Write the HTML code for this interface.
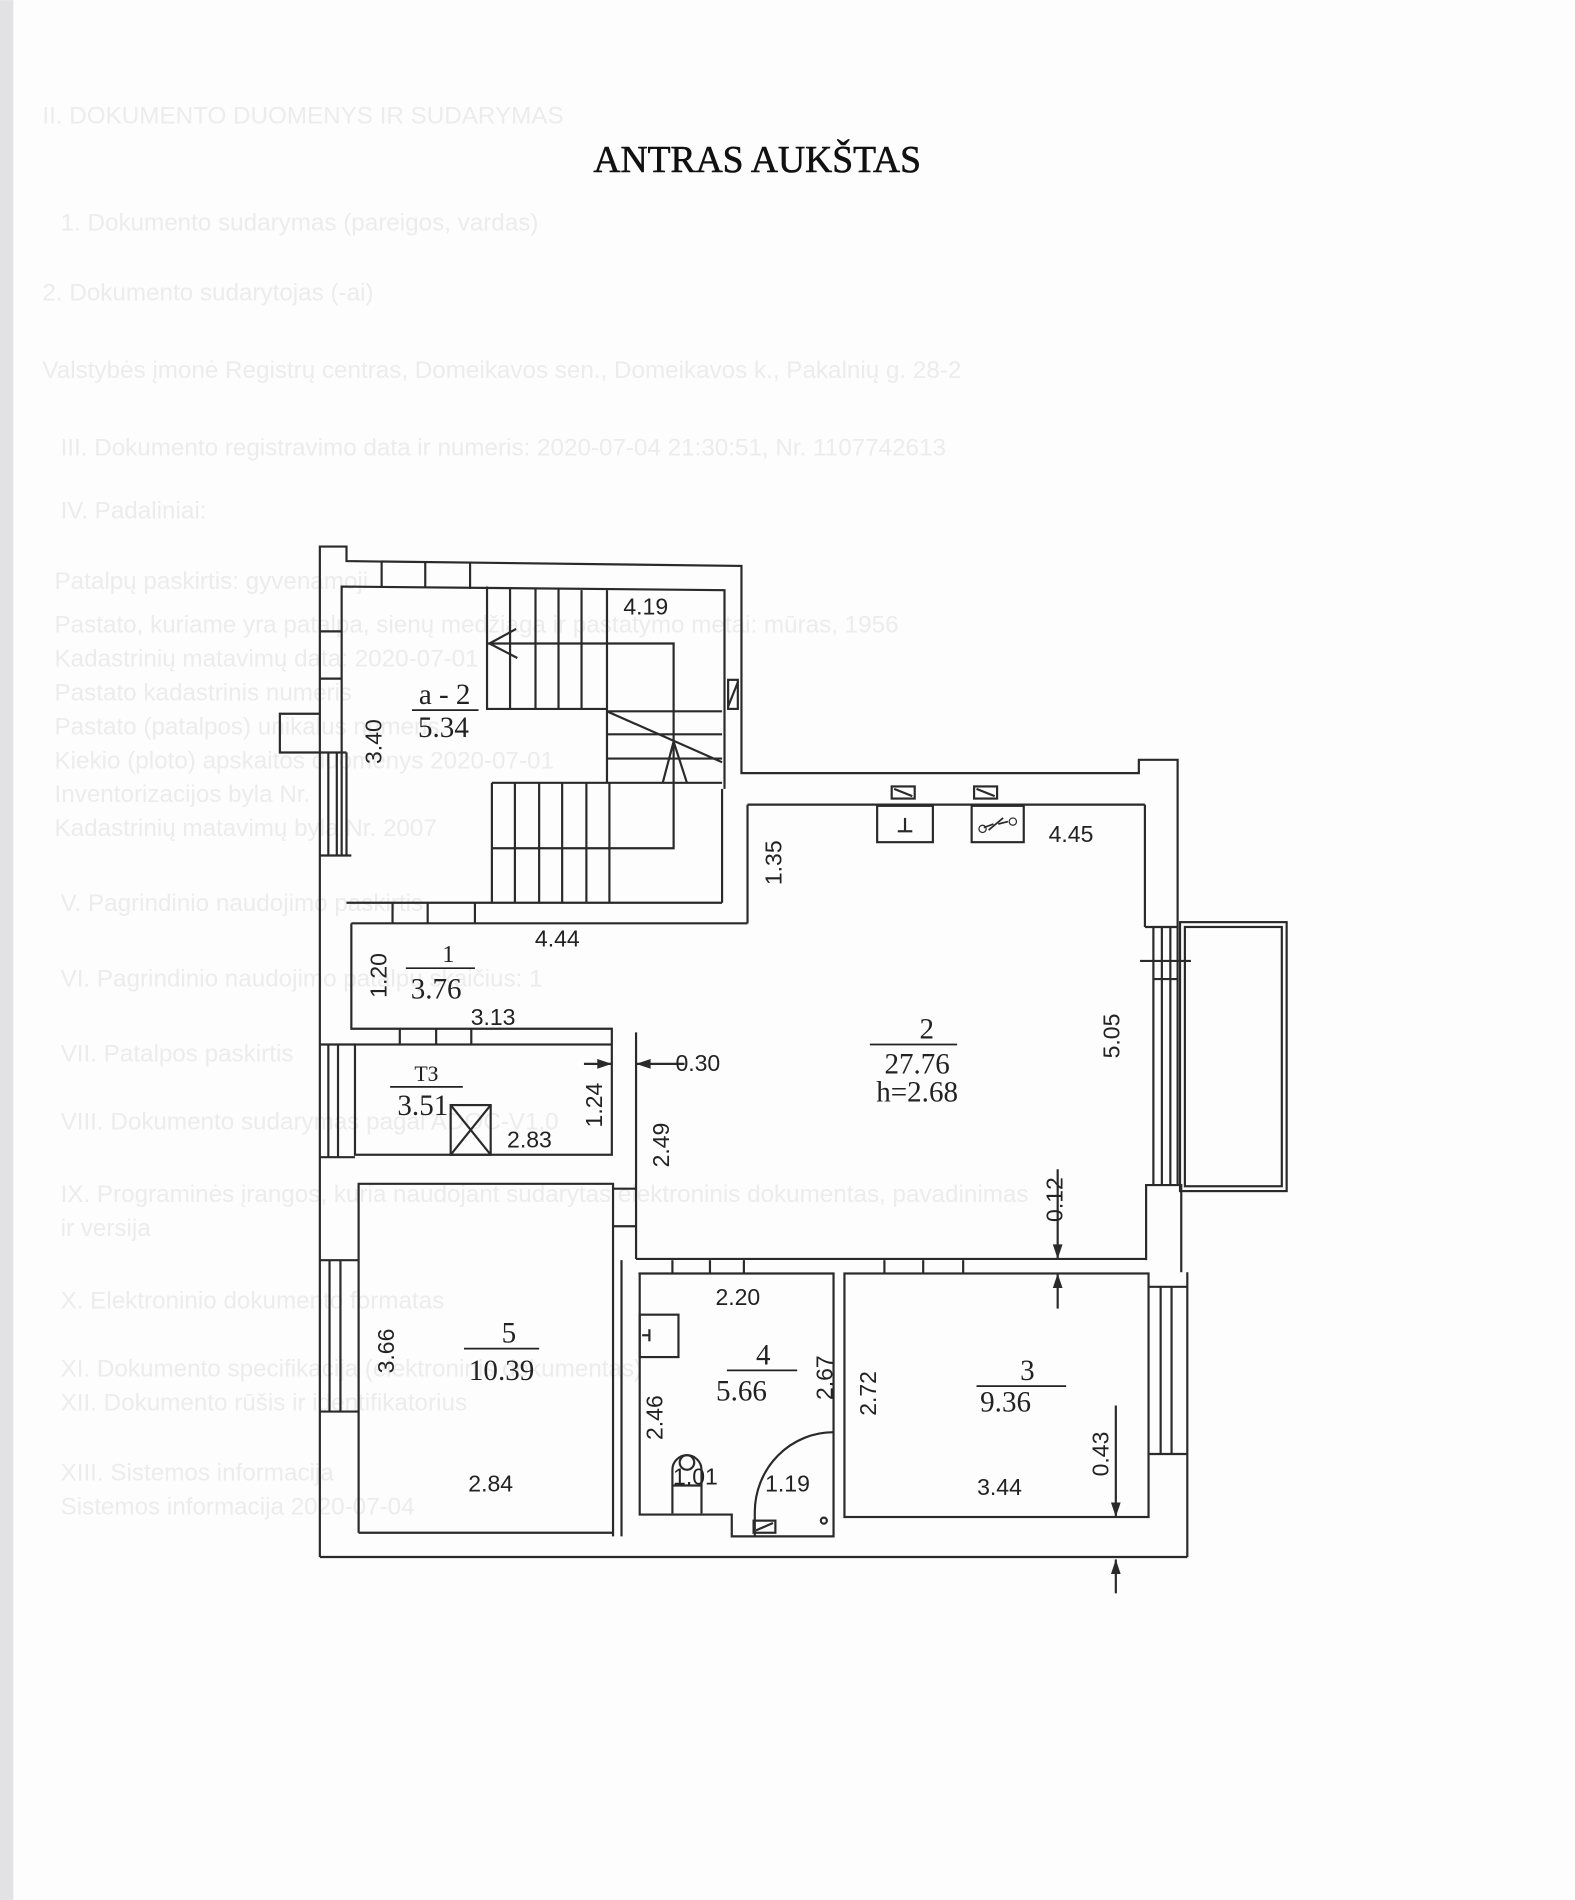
<!DOCTYPE html>
<html><head><meta charset="utf-8"><style>
html,body{margin:0;padding:0;background:#fdfdfd;}
svg{display:block;}
text{font-family:"Liberation Sans",sans-serif;fill:#222;}
.t{font-size:19px;}
.s text{font-family:"Liberation Serif",serif;font-size:24px;}
.bg text{font-family:"Liberation Sans",sans-serif;font-size:20px;fill:#ececec;}
</style></head><body>
<svg width="1575" height="1900" viewBox="0 0 1300 1568" xmlns="http://www.w3.org/2000/svg">
<rect x="0" y="0" width="1300" height="1568" fill="#fdfdfd"/>
<rect x="0" y="0" width="11" height="1568" fill="#e2e2e4"/>
<!-- faint background text -->
<g class="bg">
<text x="35" y="102">II. DOKUMENTO DUOMENYS IR SUDARYMAS</text>
<text x="50" y="190">1. Dokumento sudarymas (pareigos, vardas)</text>
<text x="35" y="248">2. Dokumento sudarytojas (-ai)</text>
<text x="35" y="312">Valstybės įmonė Registrų centras, Domeikavos sen., Domeikavos k., Pakalnių g. 28-2</text>
<text x="50" y="376">III. Dokumento registravimo data ir numeris: 2020-07-04 21:30:51, Nr. 1107742613</text>
<text x="50" y="428">IV. Padaliniai:</text>
<text x="45" y="486">Patalpų paskirtis: gyvenamoji</text>
<text x="45" y="522">Pastato, kuriame yra patalpa, sienų medžiaga ir pastatymo metai: mūras, 1956</text>
<text x="45" y="550">Kadastrinių matavimų data: 2020-07-01</text>
<text x="45" y="578">Pastato kadastrinis numeris</text>
<text x="45" y="606">Pastato (patalpos) unikalus numeris</text>
<text x="45" y="634">Kiekio (ploto) apskaitos duomenys 2020-07-01</text>
<text x="45" y="662">Inventorizacijos byla Nr.</text>
<text x="45" y="690">Kadastrinių matavimų byla Nr. 2007</text>
<text x="50" y="752">V. Pagrindinio naudojimo paskirtis</text>
<text x="50" y="814">VI. Pagrindinio naudojimo patalpų skaičius: 1</text>
<text x="50" y="876">VII. Patalpos paskirtis</text>
<text x="50" y="932">VIII. Dokumento sudarymas pagal ADOC-V1.0</text>
<text x="50" y="992">IX. Programinės įrangos, kuria naudojant sudarytas elektroninis dokumentas, pavadinimas</text>
<text x="50" y="1020">ir versija</text>
<text x="50" y="1080">X. Elektroninio dokumento formatas</text>
<text x="50" y="1136">XI. Dokumento specifikacija (elektroninis dokumentas)</text>
<text x="50" y="1164">XII. Dokumento rūšis ir identifikatorius</text>
<text x="50" y="1222">XIII. Sistemos informacija</text>
<text x="50" y="1250">Sistemos informacija 2020-07-04</text>
</g>

<text x="625" y="142" text-anchor="middle" style="font-family:'Liberation Serif',serif;font-size:31px;fill:#111;stroke:#111;stroke-width:0.5">ANTRAS AUKŠTAS</text>

<g fill="none" stroke="#2a2a2a" stroke-width="1.8">
<polyline points="264,621 264,451 286,451 286,463 612,467 612,638 940,638 940,627 972,627 972,765"/>
<polyline points="282,706 282,484 598,487 598,651"/>
<line x1="315" y1="463" x2="315" y2="484"/><line x1="351" y1="464" x2="351" y2="485"/><line x1="388" y1="465" x2="388" y2="486"/>
<line x1="264" y1="521" x2="282" y2="521"/><line x1="264" y1="560" x2="282" y2="560"/>
<polyline points="264,589 231,589 231,621 286,621"/>
<line x1="264" y1="621" x2="264" y2="1285"/>
<line x1="271" y1="621" x2="271" y2="706"/><line x1="278" y1="621" x2="278" y2="706"/>
<line x1="264" y1="706" x2="290" y2="706"/>
<line x1="286" y1="621" x2="286" y2="706"/>
<line x1="271" y1="862" x2="271" y2="955"/><line x1="279" y1="862" x2="279" y2="955"/><line x1="264" y1="862" x2="293" y2="862"/><line x1="264" y1="955" x2="293" y2="955"/>
<line x1="272" y1="1040" x2="272" y2="1165"/><line x1="281" y1="1040" x2="281" y2="1165"/><line x1="264" y1="1040" x2="296" y2="1040"/><line x1="264" y1="1165" x2="296" y2="1165"/>

<polyline points="402,484 402,585 501,585"/>
<line x1="421" y1="486" x2="421" y2="585"/><line x1="442" y1="486" x2="442" y2="585"/><line x1="461" y1="486" x2="461" y2="585"/><line x1="480" y1="487" x2="480" y2="585"/><line x1="501" y1="487" x2="501" y2="646"/>
<polyline points="402,531 556,531 556,700 406,700"/>
<line x1="501" y1="587" x2="596" y2="587"/><line x1="501" y1="606" x2="596" y2="606"/><line x1="501" y1="626" x2="596" y2="626"/>
<line x1="406" y1="646" x2="596" y2="646"/>
<line x1="501" y1="587" x2="596" y2="629"/>
<polyline points="547,646 556,612 567,646"/>
<polyline points="426,519 404,531 427,543"/>
<polyline points="406,646 406,745"/>
<line x1="425" y1="646" x2="425" y2="745"/><line x1="445" y1="646" x2="445" y2="745"/><line x1="464" y1="646" x2="464" y2="745"/><line x1="484" y1="646" x2="484" y2="745"/><line x1="503" y1="646" x2="503" y2="745"/>
<rect x="601" y="561" width="8" height="24"/><line x1="601" y1="583" x2="609" y2="563"/>
<line x1="286" y1="745" x2="596" y2="745"/>
<polyline points="290,762 290,849 505,849 505,862"/>
<line x1="290" y1="762" x2="617" y2="762"/>
<line x1="617" y1="762" x2="617" y2="664"/>
<line x1="596" y1="651" x2="596" y2="745"/>
<line x1="324" y1="745" x2="324" y2="762"/><line x1="353" y1="745" x2="353" y2="762"/><line x1="392" y1="745" x2="392" y2="762"/>
<line x1="617" y1="664" x2="945" y2="664"/>
<rect x="736" y="649" width="19" height="10"/><line x1="738" y1="651" x2="753" y2="657"/>
<rect x="804" y="649" width="19" height="10"/><line x1="806" y1="651" x2="821" y2="657"/>
<rect x="724" y="665" width="46" height="30"/>
<line x1="747" y1="675" x2="747" y2="686"/><line x1="741" y1="686" x2="753" y2="686"/>
<rect x="802" y="665" width="43" height="30"/>
<line x1="945" y1="664" x2="945" y2="765"/>
<line x1="945" y1="765" x2="972" y2="765"/>
<line x1="952" y1="765" x2="952" y2="978"/><line x1="959" y1="765" x2="959" y2="978"/><line x1="966" y1="765" x2="966" y2="978"/><line x1="972" y1="765" x2="972" y2="978"/>
<line x1="941" y1="793" x2="983" y2="793"/><line x1="952" y1="808" x2="972" y2="808"/>
<rect x="974" y="761" width="88" height="222"/><rect x="978" y="765" width="80" height="214"/>
<polyline points="946,1040 946,978 975,978 975,1050"/>
<rect x="293" y="862" width="212" height="91"/>
<line x1="330" y1="849" x2="330" y2="862"/><line x1="360" y1="849" x2="360" y2="862"/><line x1="389" y1="849" x2="389" y2="862"/>
<rect x="372" y="912" width="33" height="41"/><line x1="372" y1="912" x2="405" y2="953"/><line x1="405" y1="912" x2="372" y2="953"/>
<line x1="525" y1="852" x2="525" y2="1039"/>
<line x1="525" y1="1039" x2="946" y2="1039"/>
<polyline points="296,1265 296,977 506,977 506,1268"/>
<line x1="506" y1="981" x2="525" y2="981"/><line x1="506" y1="1012" x2="525" y2="1012"/>
<line x1="296" y1="1265" x2="506" y2="1265"/>
<line x1="513" y1="1040" x2="513" y2="1268"/>
<polyline points="527,1051 688,1051 688,1268 604,1268 604,1250 528,1250 528,1051"/>
<line x1="555" y1="1040" x2="555" y2="1051"/><line x1="586" y1="1040" x2="586" y2="1051"/><line x1="614" y1="1040" x2="614" y2="1051"/>
<rect x="528" y="1085" width="32" height="35"/><line x1="536" y1="1097" x2="536" y2="1107"/><line x1="530" y1="1102" x2="536" y2="1102"/>
<path d="M555,1249 V1213 A12,12 0 0 1 579,1213 V1249"/><circle cx="567" cy="1207" r="6"/><line x1="555" y1="1226" x2="579" y2="1226"/>
<path d="M623,1268 V1248 A65,66 0 0 1 688,1182"/>
<circle cx="680" cy="1255" r="2.5"/>
<rect x="622" y="1255" width="18" height="10"/><line x1="624" y1="1263" x2="638" y2="1257"/>
<rect x="697" y="1051" width="251" height="201"/>
<line x1="730" y1="1040" x2="730" y2="1051"/><line x1="762" y1="1040" x2="762" y2="1051"/><line x1="795" y1="1040" x2="795" y2="1051"/>
<line x1="948" y1="1062" x2="980" y2="1062"/><line x1="958" y1="1062" x2="958" y2="1200"/><line x1="967" y1="1062" x2="967" y2="1200"/><line x1="948" y1="1200" x2="980" y2="1200"/>
<line x1="980" y1="1050" x2="980" y2="1285"/>
<line x1="264" y1="1285" x2="980" y2="1285"/>
<line x1="873" y1="965" x2="873" y2="1039"/><line x1="873" y1="1051" x2="873" y2="1080"/>
<line x1="921" y1="1160" x2="921" y2="1252"/><line x1="921" y1="1287" x2="921" y2="1315"/>
<line x1="525" y1="878" x2="565" y2="878"/><line x1="482" y1="878" x2="505" y2="878"/>
</g>
<g fill="#2a2a2a">
<polygon points="873,1039 869,1027 877,1027"/><polygon points="873,1051 869,1063 877,1063"/>
<polygon points="921,1252 917,1240 925,1240"/><polygon points="921,1287 917,1299 925,1299"/>
<polygon points="525,878 537,874 537,882"/><polygon points="505,878 493,874 493,882"/>
</g>
<path d="M812,683 l8,-3 m-4,5 l12,-10 m-4,5 l8,-2" stroke="#2a2a2a" stroke-width="1.4" fill="none"/>
<circle cx="811" cy="684" r="3" fill="none" stroke="#2a2a2a"/><circle cx="836" cy="678" r="3" fill="none" stroke="#2a2a2a"/>

<g stroke="#222" stroke-width="1.4">
<line x1="340" y1="586" x2="395" y2="586"/>
<line x1="335" y1="799" x2="392" y2="799"/>
<line x1="718" y1="862" x2="790" y2="862"/>
<line x1="322" y1="897" x2="382" y2="897"/>
<line x1="383" y1="1113" x2="445" y2="1113"/>
<line x1="600" y1="1131" x2="658" y2="1131"/>
<line x1="806" y1="1144" x2="880" y2="1144"/>
</g>
<g class="t">
<text x="533" y="507" text-anchor="middle">4.19</text>
<text x="884" y="695" text-anchor="middle">4.45</text>
<text x="460" y="781" text-anchor="middle">4.44</text>
<text x="407" y="846" text-anchor="middle">3.13</text>
<text x="576" y="884" text-anchor="middle">0.30</text>
<text x="437" y="947" text-anchor="middle">2.83</text>
<text x="609" y="1077" text-anchor="middle">2.20</text>
<text x="405" y="1231" text-anchor="middle">2.84</text>
<text x="574" y="1225" text-anchor="middle">1.01</text>
<text x="650" y="1231" text-anchor="middle">1.19</text>
<text x="825" y="1234" text-anchor="middle">3.44</text>
<text transform="translate(315,612) rotate(-90)" text-anchor="middle">3.40</text>
<text transform="translate(645,712) rotate(-90)" text-anchor="middle">1.35</text>
<text transform="translate(319,805) rotate(-90)" text-anchor="middle">1.20</text>
<text transform="translate(924,855) rotate(-90)" text-anchor="middle">5.05</text>
<text transform="translate(497,912) rotate(-90)" text-anchor="middle">1.24</text>
<text transform="translate(552,945) rotate(-90)" text-anchor="middle">2.49</text>
<text transform="translate(877,990) rotate(-90)" text-anchor="middle">0.12</text>
<text transform="translate(325,1115) rotate(-90)" text-anchor="middle">3.66</text>
<text transform="translate(687,1137) rotate(-90)" text-anchor="middle">2.67</text>
<text transform="translate(547,1170) rotate(-90)" text-anchor="middle">2.46</text>
<text transform="translate(723,1150) rotate(-90)" text-anchor="middle">2.72</text>
<text transform="translate(915,1200) rotate(-90)" text-anchor="middle">0.43</text>
</g>
<g class="s">
<text x="367" y="581" text-anchor="middle">a - 2</text>
<text x="366" y="608" text-anchor="middle">5.34</text>
<text x="370" y="794" text-anchor="middle" style="font-size:20px">1</text>
<text x="360" y="824" text-anchor="middle">3.76</text>
<text x="765" y="857" text-anchor="middle">2</text>
<text x="757" y="886" text-anchor="middle">27.76</text>
<text x="757" y="909" text-anchor="middle">h=2.68</text>
<text x="352" y="892" text-anchor="middle" style="font-size:18px">ТЗ</text>
<text x="349" y="920" text-anchor="middle">3.51</text>
<text x="420" y="1108" text-anchor="middle">5</text>
<text x="414" y="1139" text-anchor="middle">10.39</text>
<text x="630" y="1126" text-anchor="middle">4</text>
<text x="612" y="1156" text-anchor="middle">5.66</text>
<text x="848" y="1139" text-anchor="middle">3</text>
<text x="830" y="1165" text-anchor="middle">9.36</text>
</g>
</svg>
</body></html>
